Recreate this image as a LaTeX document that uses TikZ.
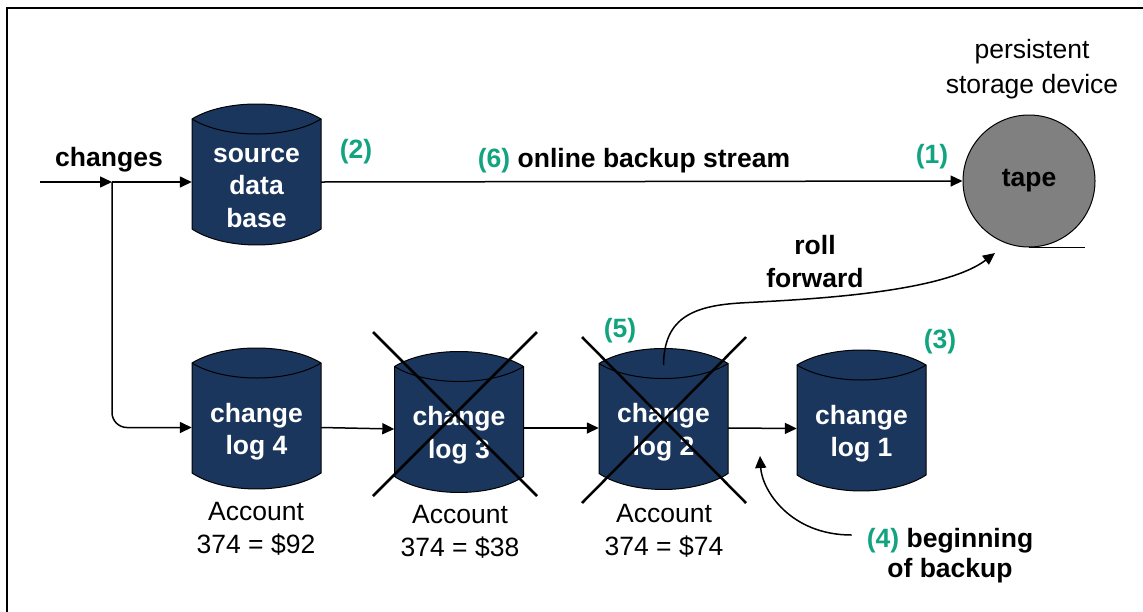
\documentclass[tikz,border=0pt]{standalone}
\usepackage{fontspec}
\setmainfont{Liberation Sans}
\usetikzlibrary{arrows.meta,calc,backgrounds}
\definecolor{dbnavy}{RGB}{27,54,93}
\definecolor{stepgreen}{RGB}{18,163,128}
\definecolor{tapegray}{RGB}{128,128,128}

\begin{document}
\begin{tikzpicture}[x=1pt,y=-1pt,
  every node/.style={inner sep=0pt},
  txt/.style={font=\fontsize{26.5}{32.5}\selectfont, align=center},
  bold/.style={font=\fontsize{26.5}{32.5}\selectfont\bfseries, align=center},
  num/.style={bold, text=stepgreen},
  db/.style={bold, text=white, minimum width=129pt, minimum height=141pt},
  cyl/.pic={
    \filldraw[fill=dbnavy, draw=black, line width=1pt]
      (-64.5,-55.5) .. controls (-32.25,-75.5) and (32.25,-75.5) .. (64.5,-55.5)
      -- (64.5,54.5) .. controls (32.25,75.8) and (-32.25,75.8) .. (-64.5,54.5)
      -- cycle;
    \draw[black, line width=1pt]
      (-64.5,-55.5) .. controls (-32.25,-35.5) and (32.25,-35.5) .. (64.5,-55.5);
  },
  flow/.style={line width=1.5pt, -{Triangle[length=12pt,width=11pt]}},
  cross/.style={line width=2.5pt},
]
\useasboundingbox (0,0) rectangle (1143,611);

% frame
\draw[line width=2pt] (1146,8) -- (7,8) -- (7,614);

% databases (text nodes; the cylinder bodies go on the background layer)
\node[db] (src)  at (256.5,187.5) {source\\data\\base};
\node[db] (log4) at (256.5,431.5) {change\\log 4};
\node[db] (log3) at (459,435)     {change\\log 3};
\node[db] (log2) at (663.5,432)   {change\\log 2};
\node[db] (log1) at (861.5,433.5) {change\\log 1};

\begin{scope}[on background layer]
  \foreach \d in {src,log4,log3,log2,log1}
    \pic at ($(\d)+(0,-13)$) {cyl};
\end{scope}

% tape
\node[circle, draw=black, line width=1pt, fill=tapegray, minimum size=132pt, bold]
  (tape) at (1029,181) {tape};
\draw[line width=1.2pt] (tape.south) -- ++(56,0);

% labels
\node[bold, anchor=base] (chg) at (109,166) {changes};
\node[num, anchor=base] (n2) at (356,158) {(2)};
\node[bold, anchor=base] (stream) at (634,167) {\textcolor{stepgreen}{(6)} online backup stream};
\node[num, anchor=base] (n1) at (932,163) {(1)};
\node[txt, font=\fontsize{26.5}{35}\selectfont, anchor=base] (dev) at (1032,93) {persistent\\storage device};
\node[bold, anchor=base] (roll) at (815,287) {roll\\forward};
\node[num, anchor=base] (n5) at (620,337) {(5)};
\node[num, anchor=base] (n3) at (940,348) {(3)};
\node[txt, anchor=base] (acc4) at (256,553) {Account\\374 = \$92};
\node[txt, anchor=base] (acc3) at (460,556) {Account\\374 = \$38};
\node[txt, anchor=base] (acc2) at (664,555) {Account\\374 = \$74};
\node[bold, font=\fontsize{26.5}{29.5}\selectfont\bfseries, anchor=base] (bk) at (950,577)
  {\textcolor{stepgreen}{(4)} beginning\\of backup};

% incoming changes
\coordinate (feed) at (40,182);
\coordinate (split) at (112,182);
\draw[flow] (feed) -- (split);
\draw[flow] (split) -- (split -| src.west);
\draw[flow, rounded corners=15pt] (split) |- ([yshift=4pt]log4.west);

% online backup stream
\draw[flow] ([yshift=5.5pt]src.east) -- (tape.west);

% chain of change logs
\draw[flow] ([yshift=4pt]log4.east) -- ([yshift=6pt]log3.west);
\draw[flow] ([yshift=7pt]log3.east) -- ([yshift=4pt]log2.west);
\draw[flow] ([yshift=4pt]log2.east) -- ([yshift=5pt]log1.west);

% discarded logs
\draw[cross] ($(log3)+(-86,-103)$) -- ($(log3)+(78,61)$);
\draw[cross] ($(log3)+(78,-103)$) -- ($(log3)+(-86,61)$);
\draw[cross] ($(log2)+(-81.5,-95)$) -- ($(log2)+(82.5,71)$);
\draw[cross] ($(log2)+(82.5,-95)$) -- ($(log2)+(-81.5,71)$);

% roll forward
\coordinate (rfstart) at ($(log2)+(0,-67)$);
\coordinate (rfend) at (995,253);
\draw[flow] (rfstart) .. controls (664,320) and (690,306) .. (740,303)
  .. controls (790,300) and (940,295) .. (rfend);

% beginning of backup
\coordinate (bkgap) at (760,456);
\draw[flow] ([xshift=-15pt,yshift=42pt]bk.base west) .. controls (790,535) and (762,490) .. (bkgap);
\end{tikzpicture}
\end{document}
